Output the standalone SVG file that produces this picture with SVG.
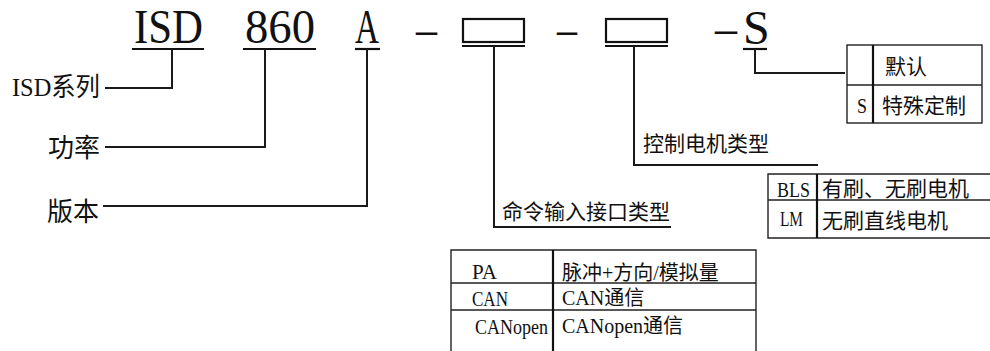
<svg xmlns="http://www.w3.org/2000/svg" width="990" height="351" viewBox="0 0 990 351">
<style>
.bg{fill:#ffffff}
.big{font-family:"Liberation Serif","Noto Sans CJK SC",serif;font-size:48px;fill:#111}
.lbl{font-family:"Liberation Serif","Noto Sans CJK SC",serif;font-size:26px;fill:#111}
.mid{font-family:"Liberation Serif","Noto Sans CJK SC",serif;font-size:21px;fill:#111}
.sm{font-family:"Liberation Serif","Noto Sans CJK SC",serif;font-size:20px;fill:#111}
.lat{font-family:"Liberation Serif",serif;font-size:21px;fill:#111}
.ul{stroke:#111;stroke-width:2.2;fill:none}
.box{stroke:#111;stroke-width:2.2;fill:#fff}
.con{stroke:#1a1a1a;stroke-width:2;fill:none}
.tb{stroke:#222;stroke-width:1.4;fill:none}
.tdiv{stroke:#111;stroke-width:2.2;fill:none}
</style>
<rect class="bg" x="0" y="0" width="990" height="351"/>

<g id="seg-isd">
<text class="big" x="134" y="43" textLength="69" lengthAdjust="spacingAndGlyphs">ISD</text>
<line class="ul" x1="132" y1="49" x2="204" y2="49"/>
</g>
<g id="seg-860">
<text class="big" x="245" y="43" textLength="70" lengthAdjust="spacingAndGlyphs">860</text>
<line class="ul" x1="243" y1="49" x2="316" y2="49"/>
</g>
<g id="seg-a">
<text class="big" x="355" y="43" textLength="24" lengthAdjust="spacingAndGlyphs">A</text>
<line class="ul" x1="355" y1="49" x2="380" y2="49"/>
</g>
<g id="dash-1">
<text class="big" x="416" y="45" textLength="21" lengthAdjust="spacingAndGlyphs">–</text>
</g>
<g id="seg-cmd">
<rect class="box" x="463" y="19" width="61" height="23"/>
<line class="ul" x1="462" y1="46" x2="525" y2="46" stroke-width="2.6"/>
</g>
<g id="dash-2">
<text class="big" x="557" y="45" textLength="20" lengthAdjust="spacingAndGlyphs">–</text>
</g>
<g id="seg-motor">
<rect class="box" x="606" y="19" width="61" height="23"/>
<line class="ul" x1="605" y1="46" x2="668" y2="46" stroke-width="2.6"/>
</g>
<g id="seg-s">
<text class="big" x="715" y="44"><tspan textLength="22" lengthAdjust="spacingAndGlyphs">–</tspan><tspan x="743">S</tspan></text>
<line class="ul" x1="743" y1="49" x2="767" y2="49"/>
</g>

<g id="lbl-series"><text class="lbl" x="100" y="96" text-anchor="end" textLength="88" lengthAdjust="spacingAndGlyphs">ISD系列</text></g>
<g id="lbl-power"><text class="lbl" x="100" y="157" text-anchor="end">功率</text></g>
<g id="lbl-version"><text class="lbl" x="99" y="221" text-anchor="end" font-size="27">版本</text></g>
<g id="lbl-cmd"><text class="mid" x="502" y="219">命令输入接口类型</text></g>
<g id="lbl-motor"><text class="mid" x="643" y="151">控制电机类型</text></g>

<g id="connectors">
<path class="con" d="M172 49 V88 H105"/>
<path class="con" d="M265 49 V147 H105"/>
<path class="con" d="M367 49 V206 H103"/>
<path class="con" d="M494 46 V227 H671"/>
<path class="con" d="M634 46 V165 H818"/>
<path class="con" d="M755 49 V73 H845"/>
</g>

<g id="tbl-s">
<rect class="tb" x="847" y="45" width="135" height="78"/>
<line class="tb" x1="847" y1="85" x2="982" y2="85"/>
<line class="tdiv" x1="873" y1="45" x2="873" y2="123"/>
<text class="mid" x="885" y="74">默认</text>
<text class="lat" x="857" y="113" font-size="22" textLength="10" lengthAdjust="spacingAndGlyphs">S</text>
<text class="mid" x="882" y="113">特殊定制</text>
</g>

<g id="tbl-motor">
<path class="tb" d="M992 174 H768 V238 H992 M768 200 H992"/>
<line class="tdiv" x1="817" y1="174" x2="817" y2="238"/>
<text class="lat" x="777" y="197" textLength="33" lengthAdjust="spacingAndGlyphs">BLS</text>
<text class="mid" x="822" y="196">有刷、无刷电机</text>
<text class="lat" x="780" y="226" textLength="23" lengthAdjust="spacingAndGlyphs">LM</text>
<text class="mid" x="822" y="228">无刷直线电机</text>
</g>

<g id="tbl-cmd">
<path class="tb" d="M451 352 V250 H756 V352 M451 283 H756 M451 310 H756"/>
<line class="tdiv" x1="553" y1="250" x2="553" y2="352"/>
<text class="lat" x="472" y="279" textLength="25" lengthAdjust="spacingAndGlyphs">PA</text>
<text class="lat" x="472" y="306" textLength="36" lengthAdjust="spacingAndGlyphs">CAN</text>
<text class="lat" x="475" y="334" textLength="73" lengthAdjust="spacingAndGlyphs">CANopen</text>
<text class="sm" x="562" y="280">脉冲+方向/模拟量</text>
<text class="sm" x="562" y="305">CAN通信</text>
<text class="sm" x="562" y="333">CANopen通信</text>
</g>
</svg>
